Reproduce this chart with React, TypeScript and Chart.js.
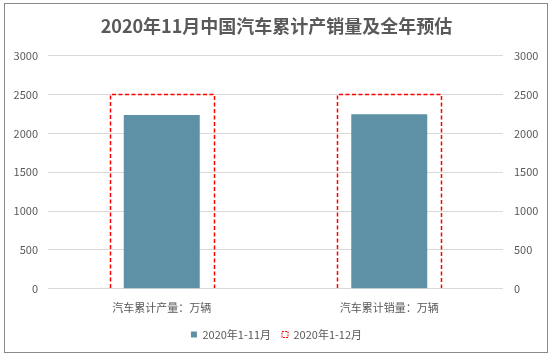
import React, { useEffect, useRef } from "react";
import { Chart, registerables } from "chart.js";
Chart.register(...registerables);

const categories = ["汽车累计产量：万辆", "汽车累计销量：万辆"];
const actual2020Nov = [2237, 2247];
const forecast2020 = [2500, 2500];
const seriesNames = ["2020年1-11月", "2020年1-12月"];
const yMax = 3000;
const yStep = 500;

const FONT = "'Noto Sans CJK SC', 'Noto Sans', sans-serif";
const TEXT = "#595959";
const BLUE = "#5E91A6";
const RED = "#FF0000";

const dashedBars = {
  id: "dashedBars",
  afterDatasetsDraw(chart: any) {
    const meta = chart.getDatasetMeta(1);
    const ctx = chart.ctx;
    ctx.save();
    ctx.setLineDash([4, 2.5]);
    ctx.strokeStyle = RED;
    ctx.lineWidth = 1.5;
    meta.data.forEach((el: any) => {
      const { x, y, base, width } = el.getProps(["x", "y", "base", "width"], true);
      const l = Math.round(x - width / 2) + 0.5;
      const r = Math.round(x + width / 2) + 0.5;
      const t = Math.round(y) + 0.5;
      const b = Math.round(base);
      ctx.beginPath();
      ctx.moveTo(l, b);
      ctx.lineTo(l, t);
      ctx.lineTo(r, t);
      ctx.lineTo(r, b);
      ctx.stroke();
    });
    ctx.restore();
  },
};

export default function App() {
  const ref = useRef<HTMLCanvasElement>(null);
  useEffect(() => {
    document.body.style.margin = "0";
    const chart = new Chart(ref.current!, {
      type: "bar",
      data: {
        labels: categories,
        datasets: [
          {
            label: seriesNames[0],
            data: actual2020Nov,
            backgroundColor: BLUE,
            borderWidth: 0,
            grouped: false,
            categoryPercentage: 1,
            barPercentage: 0.334,
            order: 1,
          },
          {
            label: seriesNames[1],
            data: forecast2020,
            backgroundColor: "rgba(0,0,0,0)",
            borderWidth: 0,
            grouped: false,
            categoryPercentage: 1,
            barPercentage: 0.457,
            order: 0,
          },
        ],
      } as any,
      options: {
        animation: false,
        responsive: false,
        maintainAspectRatio: false,
        layout: { padding: { top: 8, left: 0, right: 0, bottom: 6 } },
        plugins: {
          title: {
            display: true,
            text: "2020年11月中国汽车累计产销量及全年预估",
            color: TEXT,
            font: { family: FONT, size: 18, weight: "bold" },
            padding: { top: 7, bottom: 19 },
          },
          legend: {
            position: "bottom",
            labels: {
              color: TEXT,
              font: { family: FONT, size: 11 },
              boxWidth: 6,
              boxHeight: 6,
              padding: 11,
              generateLabels: () => [
                { text: seriesNames[0], fillStyle: BLUE, strokeStyle: BLUE, lineWidth: 0, datasetIndex: 0, fontColor: TEXT },
                { text: seriesNames[1], fillStyle: "rgba(0,0,0,0)", strokeStyle: RED, lineWidth: 1, lineDash: [2, 1], datasetIndex: 1, fontColor: TEXT },
              ] as any,
            },
          },
          tooltip: { enabled: false },
        },
        scales: {
          x: {
            grid: { display: false },
            border: { display: false },
            ticks: { color: TEXT, font: { family: FONT, size: 11 }, padding: 4 },
          },
          y: {
            position: "left",
            min: 0,
            max: yMax,
            ticks: { stepSize: yStep, color: TEXT, font: { family: FONT, size: 11 }, padding: 10, callback: (v: any) => String(v) },
            grid: { color: "#D9D9D9", drawTicks: false },
            border: { display: false },
            afterFit: (s: any) => { s.width = 48; },
          },
          y1: {
            position: "right",
            min: 0,
            max: yMax,
            ticks: { stepSize: yStep, color: TEXT, font: { family: FONT, size: 11 }, padding: 11, callback: (v: any) => String(v) },
            grid: { display: false, drawTicks: false },
            border: { display: false },
            afterFit: (s: any) => { s.width = 50; },
          },
        },
      } as any,
      plugins: [dashedBars],
    });
    return () => chart.destroy();
  }, []);
  return (
    <div style={{ position: "relative", width: 553, height: 356 }}>
      <canvas ref={ref} width={553} height={356} style={{ position: "absolute", left: 0, top: 0 }} />
      <div style={{ position: "absolute", left: 4, top: 3, width: 542, height: 348, border: "1px solid #898989", pointerEvents: "none" }} />
    </div>
  );
}
